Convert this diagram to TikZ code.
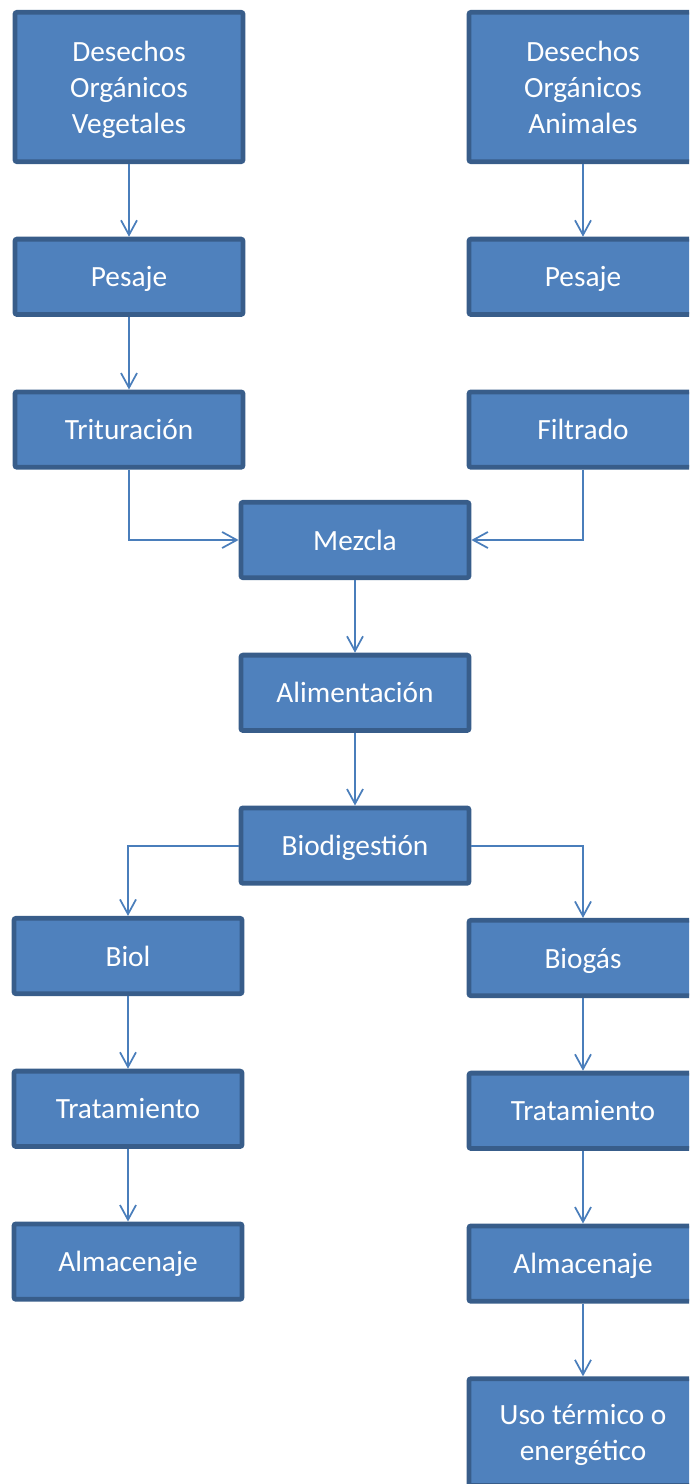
\documentclass[tikz,border=0pt]{standalone}
\usepackage{fontspec}
\setmainfont{Carlito}
\usepackage{tikz}
\usetikzlibrary{arrows.meta,positioning}
\definecolor{boxfill}{HTML}{4F81BD}
\definecolor{boxline}{HTML}{385D8A}
\definecolor{arrowline}{HTML}{4A7EBB}

\begin{document}
\begin{tikzpicture}[x=0.75pt,y=-0.75pt,
  >={Straight Barb[length=11pt,width=12pt,line width=1.3pt]},
  node distance=54.5pt,
  main node/.style={rectangle,rounded corners=1.5pt,draw=boxline,fill=boxfill,
    line width=3.6pt,minimum width=171pt,minimum height=56.5pt,inner sep=0pt,
    text depth=0pt,text=white,align=center,font=\fontsize{22}{27}\selectfont},
  tall node/.style={main node,minimum height=112pt},
  flow/.style={->,draw=arrowline,line width=1.5pt}]

  \clip (0,0) rectangle (689,1484);

  \node[tall node] (vegdes) at (129,87) {Desechos\\Orgánicos\\Vegetales};
  \node[main node] (vegpes) [below=of vegdes] {Pesaje};
  \node[main node] (trit) [below=of vegpes] {Trituración};

  \node[tall node] (anides) at (583,87) {Desechos\\Orgánicos\\Animales};
  \node[main node] (anipes) [below=of anides] {Pesaje};
  \node[main node] (filt) [below=of anipes] {Filtrado};

  \node[main node] (mezcla) at (355,540) {Mezcla};
  \node[main node] (alim) [below=of mezcla] {Alimentación};
  \node[main node] (biodig) [below=of alim] {Biodigestión};

  \node[main node] (biol) at (128,956) {Biol};
  \node[main node] (tratl) [below=of biol] {Tratamiento};
  \node[main node] (alml) [below=of tratl] {Almacenaje};

  \node[main node] (biogas) at (583,958) {Biogás};
  \node[main node] (tratr) [below=of biogas] {Tratamiento};
  \node[main node] (almr) [below=of tratr] {Almacenaje};
  \node[main node,minimum height=80pt] (uso) [below=of almr] {Uso térmico o\\energético};

  \path[flow]
    (vegdes) edge (vegpes)
    (vegpes) edge (trit)
    (anides) edge (anipes)
    (mezcla) edge (alim)
    (alim) edge (biodig)
    (biol) edge (tratl)
    (tratl) edge (alml)
    (biogas) edge (tratr)
    (tratr) edge (almr)
    (almr) edge (uso);
  \draw[flow] (trit) |- (mezcla);
  \draw[flow] (filt) |- (mezcla);
  \draw[flow] (biodig) -| (biol);
  \draw[flow] (biodig) -| (biogas);
\end{tikzpicture}
\end{document}
